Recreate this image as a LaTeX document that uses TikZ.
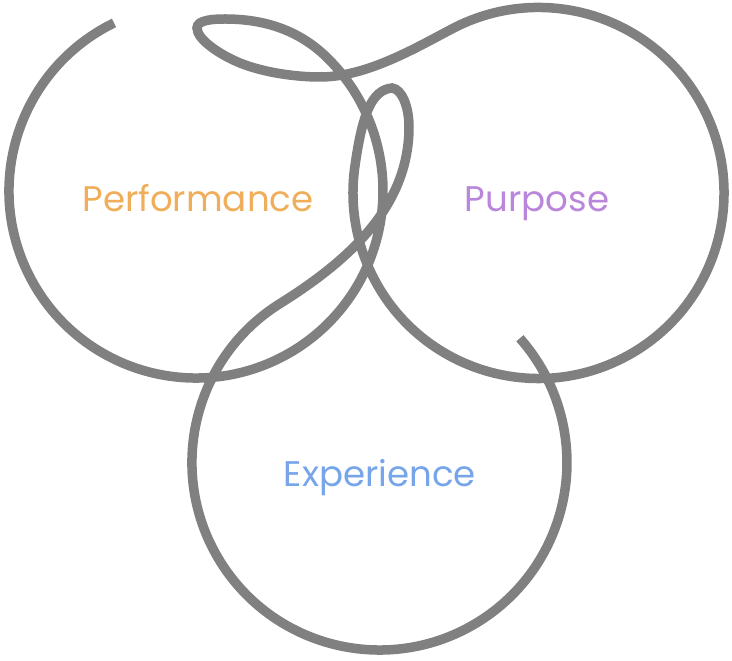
\documentclass[tikz,border=0pt]{standalone}
\usepackage{fontspec}
\setmainfont{Poppins}
\definecolor{perf}{HTML}{F0AE5A}
\definecolor{purp}{HTML}{BA86DB}
\definecolor{expe}{HTML}{77A5EA}
\definecolor{ring}{HTML}{808080}
\begin{document}
\begin{tikzpicture}[x=1pt, y=1pt,
          ring line/.style={draw=ring, line width=9.5pt},
          word/.style={anchor=base, inner sep=0pt, font=\fontsize{35.6}{42}\selectfont}]
          \useasboundingbox (0,0) rectangle (732,661);
          % one stroke: left ring, top loop, right ring, inner loop, bottom ring
          \draw[ring line] ([shift={(196,470)}]116:187pt) arc[start angle=116, end angle=405, radius=187pt]
              .. controls (300,630.5) and (265,642) .. (225,642)
              .. controls (213,642) and (197,641) .. (197,633)
              .. controls (197,621) and (221.5,605.5) .. (240,598)
              .. controls (263.2,588.6) and (295,584) .. (320,584)
              .. controls (365,584) and (411.7,610.7) .. (451.4,631.8)
              arc[start angle=118, end angle=-188, radius=185.5pt]
              .. controls (362.4,548.3) and (372,571) .. (392,573)
              .. controls (402,572) and (409,554) .. (409,534)
              .. controls (409,454) and (347.9,399.9) .. (280.1,357.5)
              arc[start angle=122, end angle=401.5, radius=187.5pt];
          \node[word, text=perf] (perf) at (198,449) {Performance};
          \node[word, text=purp] (purp) at (537,449) {Purpose};
          \node[word, text=expe] (expe) at (380,174.5) {Experience};
      \end{tikzpicture}
\end{document}
